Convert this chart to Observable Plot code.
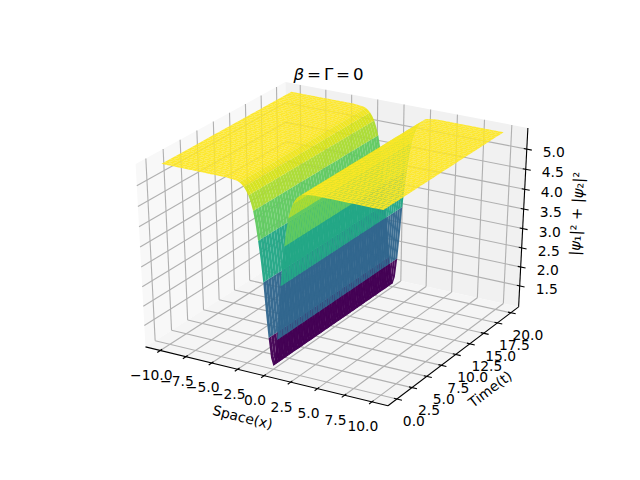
<!DOCTYPE html>
<html><head><meta charset="utf-8">
<style>html,body{margin:0;padding:0;background:#fff}svg{display:block}</style>
<script src="https://cdn.jsdelivr.net/npm/d3@7"></script>
<script src="https://cdn.jsdelivr.net/npm/@observablehq/plot@0.6"></script>
</head><body>
<script>
// ---- data ----
const spaceSamples = [-10,-9.6,-9.2,-8.8,-8.4,-8,-7.6,-7.2,-6.8,-6.4,-6,-5.6,-5.2,-4.8,-4.4,-4,-3.6,-3.2,-2.8,-2.4,-2,-1.6,-1.2,-0.8,-0.4,0,0.4,0.8,1.2,1.6,2,2.4,2.8,3.2,3.6,4,4.4,4.8,5.2,5.6,6,6.4,6.8,7.2,7.6,8,8.4,8.8,9.2,9.6,10];
const intensity = [5.47,5.47,5.47,5.47,5.47,5.47,5.47,5.47,5.47,5.47,5.47,5.47,5.47,5.47,5.47,5.47,5.46,5.45,5.42,5.33,5.15,4.8,4.1,3.1,1.72,1.03,1.72,3.1,4.1,4.8,5.15,5.33,5.42,5.45,5.46,5.47,5.47,5.47,5.47,5.47,5.47,5.47,5.47,5.47,5.47,5.47,5.47,5.47,5.47,5.47,5.47];
// intensity half-way across each space interval (rounds the walls of the dip)
const midIntensity = [5.47,5.47,5.47,5.47,5.47,5.47,5.47,5.47,5.47,5.47,5.47,5.47,5.47,5.47,5.47,5.465,5.455,5.44,5.38,5.25,5.0,4.5,3.65,2.35,1.22,1.22,2.35,3.65,4.5,5.0,5.25,5.38,5.44,5.455,5.465,5.47,5.47,5.47,5.47,5.47,5.47,5.47,5.47,5.47,5.47,5.47,5.47,5.47,5.47,5.47];
// colour level of each space interval
const facetLevel = [5.47,5.47,5.47,5.47,5.47,5.47,5.47,5.47,5.47,5.47,5.47,5.47,5.47,5.47,5.47,5.47,5.46,5.44,5.37,5.2,4.96,4.47,3.83,2.73,1.4,1.4,2.73,3.83,4.47,4.96,5.2,5.37,5.44,5.46,5.47,5.47,5.47,5.47,5.47,5.47,5.47,5.47,5.47,5.47,5.47,5.47,5.47,5.47,5.47,5.47];
const timeSamples = [0,0.4,0.8,1.2,1.6,2,2.4,2.8,3.2,3.6,4,4.4,4.8,5.2,5.6,6,6.4,6.8,7.2,7.6,8,8.4,8.8,9.2,9.6,10,10.4,10.8,11.2,11.6,12,12.4,12.8,13.2,13.6,14,14.4,14.8,15.2,15.6,16,16.4,16.8,17.2,17.6,18,18.4,18.8,19.2,19.6,20];
const xTicks = [-10,-7.5,-5,-2.5,0,2.5,5,7.5,10];
const xTickLabels = ["\u221210.0","\u22127.5","\u22125.0","\u22122.5","0.0","2.5","5.0","7.5","10.0"];
const tTicks = [0,2.5,5,7.5,10,12.5,15,17.5,20];
const tTickLabels = ["0.0","2.5","5.0","7.5","10.0","12.5","15.0","17.5","20.0"];
const zTicks = [1.5,2,2.5,3,3.5,4,4.5,5];
const zTickLabels = ["1.5","2.0","2.5","3.0","3.5","4.0","4.5","5.0"];
const xLim = [-11.458,11.458], tLim = [-1.458,21.458], zLim = [0.94,5.52];
const titleText = "\u03b2 = \u0393 = 0";
const xLabel = "Space(x)", tLabel = "Time(t)", zLabel = "|\u03c8\u2081|\u00b2 + |\u03c8\u2082|\u00b2";
const font = "DejaVu Sans";

// ---- the 3D view: elevation 30, azimuth -60, eye distance 10 ----
const el = 30*Math.PI/180, az = -60*Math.PI/180;
const W = [Math.cos(el)*Math.cos(az), Math.cos(el)*Math.sin(az), Math.sin(el)];
const U = [-Math.sin(az), Math.cos(az), 0];
const V = [W[1]*U[2]-W[2]*U[1], W[2]*U[0]-W[0]*U[2], W[0]*U[1]-W[1]*U[0]];
const dot = (a,b)=>a[0]*b[0]+a[1]*b[1]+a[2]*b[2];
function proj(x,t,z){
  const p=[(x-xLim[0])/(xLim[1]-xLim[0])-.5,(t-tLim[0])/(tLim[1]-tLim[0])-.5,(z-zLim[0])/(zLim[1]-zLim[0])-.5];
  const depth=dot(W,p), d=10-depth;
  return {px:dot(U,p)/d, py:dot(V,p)/d, depth};
}
const seg=(a,b,extra={})=>{const p=proj(...a),q=proj(...b);return {x1:p.px,y1:p.py,x2:q.px,y2:q.py,...extra};};

// ---- surface facets ----
const facets=[];
for(let j=0;j<timeSamples.length-1;j++)for(let i=0;i<spaceSamples.length-1;i++){
  const xa=spaceSamples[i],xb=spaceSamples[i+1],xm=(xa+xb)/2,ta=timeSamples[j],tb=timeSamples[j+1];
  const za=intensity[i],zb=intensity[i+1],zm=midIntensity[i];
  const corners=[[xa,ta,za],[xm,ta,zm],[xb,ta,zb],[xb,tb,zb],[xm,tb,zm],[xa,tb,za]];
  const pts=corners.map(c=>proj(...c));
  facets.push({avg:facetLevel[i],pts,depth:d3.mean(pts,p=>p.depth)});
}
facets.sort((a,b)=>a.depth-b.depth);
const facetRows=[];
facets.forEach((f,id)=>f.pts.forEach(p=>facetRows.push({id,px:p.px,py:p.py,avg:f.avg})));

// ---- panes ----
const poly=(cs)=>cs.map(c=>proj(...c));
const [x0,x1]=xLim,[t0,t1]=tLim,[z0,z1]=zLim;
const paneLeft=poly([[x0,t0,z0],[x0,t1,z0],[x0,t1,z1],[x0,t0,z1]]);
const paneBack=poly([[x0,t1,z0],[x1,t1,z0],[x1,t1,z1],[x0,t1,z1]]);
const paneFloor=poly([[x0,t0,z0],[x1,t0,z0],[x1,t1,z0],[x0,t1,z0]]);

// ---- grid, axes, ticks ----
const grid=[];
xTicks.forEach(x=>{grid.push(seg([x,t0,z0],[x,t1,z0]),seg([x,t1,z0],[x,t1,z1]));});
tTicks.forEach(t=>{grid.push(seg([x0,t,z0],[x1,t,z0]),seg([x0,t,z0],[x0,t,z1]));});
zTicks.forEach(z=>{grid.push(seg([x0,t0,z],[x0,t1,z]),seg([x0,t1,z],[x1,t1,z]));});
const axes=[seg([x0,t0,z0],[x1,t0,z0]),seg([x1,t0,z0],[x1,t1,z0]),seg([x1,t1,z0],[x1,t1,z1])];
const tickOut=0.02,tickIn=0.012;
const dT=t1-t0,dX=x1-x0;
const ticks=[
  ...xTicks.map(x=>seg([x,t0-tickOut*dT,z0],[x,t0+tickIn*dT,z0])),
  ...tTicks.map(t=>seg([x1+tickOut*dX,t,z0],[x1-tickIn*dX,t,z0])),
  ...zTicks.map(z=>seg([x1+tickOut*dX,t1,z],[x1-tickIn*dX,t1,z]))
];
const lab=(labels,fn)=>labels.map((text,i)=>({text,...proj(...fn(i))}));
const xLab=lab(xTickLabels,i=>[xTicks[i],t0,z0]);
const tLab=lab(tTickLabels,i=>[x1,tTicks[i],z0]);
const zLab=lab(zTickLabels,i=>[x1,t1,zTicks[i]]);
const paneMark=(rows,fill)=>Plot.line(rows,{x:"px",y:"py",fill,stroke:"none"});
const linkOpts=(stroke)=>({x1:"x1",y1:"y1",x2:"x2",y2:"y2",stroke,strokeWidth:1.11});
const tickText=(rows,dx,dy)=>Plot.text(rows,{x:"px",y:"py",text:"text",dx,dy,fontSize:13.89,fill:"#000",lineAnchor:"middle"});

const svg=Plot.plot({
  width:640,height:480,margin:0,
  style:{fontFamily:font,background:"#fff"},
  x:{axis:null,domain:[-0.0909,0.0863],range:[80,576]},
  y:{axis:null,domain:[-0.0884,0.0887],range:[422.4,52.8]},
  color:{type:"linear",scheme:"viridis",domain:d3.extent(facetLevel)},
  marks:[
    paneMark(paneLeft,"#f8f8f8"),
    paneMark(paneBack,"#f1f1f1"),
    paneMark(paneFloor,"#f5f5f5"),
    Plot.link(grid,linkOpts("#b0b0b0")),
    Plot.link(axes,linkOpts("#000")),
    Plot.link(ticks,linkOpts("#000")),
    Plot.line(facetRows,{x:"px",y:"py",z:"id",fill:"avg",stroke:"none",fillOpacity:0.96}),
    tickText(xLab,-9,25),
    tickText(tLab,17,23),
    tickText(zLab,27,3.5),
    Plot.text([proj(0,t0,z0)],{x:"px",y:"py",text:()=>xLabel,dx:-21.5,dy:42,rotate:14,fontSize:13.89,lineAnchor:"middle"}),
    Plot.text([proj(x1,10,z0)],{x:"px",y:"py",text:()=>tLabel,dx:34.7,dy:35,rotate:-37,fontSize:13.89,lineAnchor:"middle"}),
    Plot.text([proj(x1,t1,3.25)],{x:"px",y:"py",text:()=>zLabel,dx:54,dy:-5,rotate:-87,fontSize:14.6,lineAnchor:"middle"}),
    Plot.text([titleText],{frameAnchor:"top",text:d=>d,dx:8,dy:74,fontSize:16.67,lineAnchor:"middle"})
  ]
});
// italic Greek letters, as in the reference's math text
svg.querySelectorAll("text").forEach(t=>{
  const s=t.textContent;
  if(s===titleText||s===zLabel){
    const parts=s.split(/([\u03b2\u03c8])/);
    t.textContent="";
    if(s===titleText)t.setAttribute("word-spacing","-2.4");
    parts.forEach(p=>{
      if(!p)return;
      const sp=document.createElementNS("http://www.w3.org/2000/svg","tspan");
      sp.textContent=p;
      if(/[\u03b2\u03c8]/.test(p))sp.setAttribute("font-style","italic");
      t.appendChild(sp);
    });
  }
});
document.body.appendChild(svg);
</script>
</body></html>
